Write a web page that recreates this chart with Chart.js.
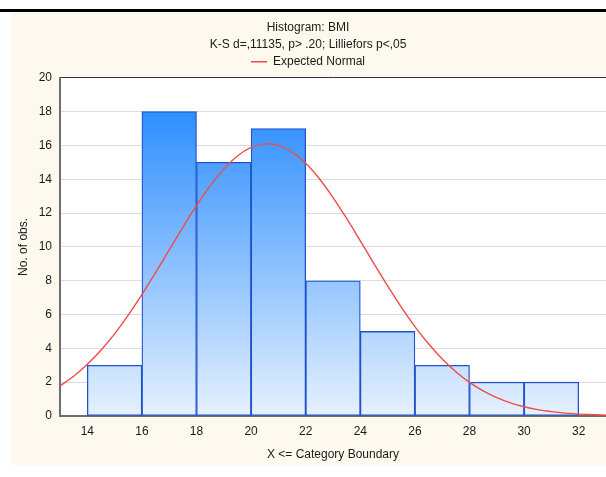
<!DOCTYPE html>
<html>
<head>
<meta charset="utf-8">
<script src="https://cdn.jsdelivr.net/npm/chart.js@4/dist/chart.umd.min.js"></script>
<style>
  html, body { margin: 0; padding: 0; background: #fff; }
  canvas { display: block; }
</style>
</head>
<body>
<canvas id="chart" width="606" height="477"></canvas>
<script>
// ===== Histogram: BMI =====

// bins (lower boundary of each 2-unit class) and observed counts
const BIN_LOWER = [14, 16, 18, 20, 22, 24, 26, 28, 30];
const COUNTS    = [3, 18, 15, 17, 8, 5, 3, 2, 2];

// expected normal curve
const CURVE_X = [13, 13.5, 14, 14.5, 15, 15.5, 16, 16.5, 17, 17.5, 18, 18.5, 19, 19.5, 20, 20.5,
                 21, 21.5, 22, 22.5, 23, 23.5, 24, 24.5, 25, 25.5, 26, 26.5, 27, 27.5, 28, 28.5,
                 29, 29.5, 30, 30.5, 31, 31.5, 32, 33];
const CURVE_Y = [1.78, 2.35, 3.06, 3.89, 4.86, 5.97, 7.18, 8.48, 9.82, 11.16, 12.44, 13.61, 14.6, 15.38, 15.88, 16.09,
                 16.0, 15.61, 14.94, 14.03, 12.92, 11.68, 10.36, 9.01, 7.7, 6.44, 5.29, 4.27, 3.37, 2.62, 1.99, 1.49,
                 1.09, 0.78, 0.55, 0.38, 0.26, 0.17, 0.11, 0.05];

const X_TICKS = [14, 16, 18, 20, 22, 24, 26, 28, 30, 32];

const THEME = {
  text:   '#1a1a1a',
  cream:  '#fef9ee',
  axis:   '#6e6e6e',
  grid:   '#dcdcdc',
  barEdge:'#1f52cc',
  barTop: '#1a84ff',
  barBot: '#e6f1fe',
  curve:  '#f04a4a',
  font:   "'Liberation Sans', Arial, sans-serif",
};

// ── Background: black rule on top, cream panel, white plot ──────────────────
const backdrop = {
  id: 'backdrop',
  beforeDraw(chart) {
    const { ctx, width, height, chartArea: a } = chart;
    ctx.save();
    ctx.fillStyle = '#fff';
    ctx.fillRect(0, 0, width, height);
    ctx.fillStyle = '#000';
    ctx.fillRect(0, 9, width, 3);
    ctx.fillStyle = THEME.cream;
    ctx.fillRect(11, 12, width - 11, 453);
    ctx.fillStyle = '#fff';
    ctx.fillRect(a.left, a.top, a.right - a.left, a.bottom - a.top);
    ctx.restore();
  },
};

function barGradient(context) {
  const { ctx, chartArea } = context.chart;
  if (!chartArea) return THEME.barTop;
  const g = ctx.createLinearGradient(0, chartArea.top, 0, chartArea.bottom);
  g.addColorStop(0, THEME.barTop);
  g.addColorStop(1, THEME.barBot);
  return g;
}

const font12 = { family: THEME.font, size: 12 };

new Chart(document.getElementById('chart'), {
  type: 'bar',
  data: {
    datasets: [
      {
        type: 'line',
        label: 'Expected Normal',
        data: CURVE_X.map((x, i) => ({ x, y: CURVE_Y[i] })),
        borderColor: THEME.curve,
        backgroundColor: THEME.curve,
        borderWidth: 1.4,
        pointRadius: 0,
        tension: 0.4,
        fill: false,
        order: 0,
      },
      {
        label: 'BMI',
        data: BIN_LOWER.map((lo, i) => ({ x: lo + 1, y: COUNTS[i] })),
        backgroundColor: barGradient,
        borderColor: THEME.barEdge,
        borderWidth: 1.3,
        borderSkipped: false,
        barPercentage: 1,
        categoryPercentage: 1,
        order: 1,
      },
    ],
  },
  options: {
    responsive: false,
    animation: false,
    devicePixelRatio: 1,
    layout: { padding: { left: 10, right: 0, top: 0, bottom: 11 } },
    plugins: {
      title: {
        display: true,
        text: 'Histogram: BMI',
        color: THEME.text,
        font: { ...font12, weight: 'normal' },
        padding: { top: 20, bottom: 0 },
      },
      subtitle: {
        display: true,
        text: 'K-S d=,11135, p> .20; Lilliefors p<,05',
        color: THEME.text,
        font: font12,
        padding: { top: 3, bottom: 0 },
      },
      legend: {
        display: true,
        labels: {
          color: THEME.text,
          font: font12,
          usePointStyle: true,
          pointStyle: 'line',
          pointStyleWidth: 16,
          padding: 4,
          filter: (item) => item.text === 'Expected Normal',
        },
      },
      tooltip: { enabled: false },
    },
    scales: {
      x: {
        type: 'linear',
        min: 13,
        max: 33,
        offset: false,
        afterBuildTicks: (s) => { s.ticks = X_TICKS.map(v => ({ value: v })); },
        afterFit: (s) => { s.height = 50; },
        grid: { display: false, offset: false, drawTicks: false },
        border: { color: THEME.axis, width: 2 },
        ticks: { color: THEME.text, font: font12, padding: 8, maxRotation: 0 },
        title: { display: true, text: 'X <= Category Boundary', color: THEME.text, font: font12,
                 padding: { top: 4, bottom: 4 } },
      },
      y: {
        min: 0,
        max: 20,
        afterFit: (s) => { s.width = 50; },
        grid: {
          color: (c) => (c.tick && c.tick.value === 20 ? '#333' : THEME.grid),
          drawTicks: false,
        },
        border: { color: THEME.axis, width: 2 },
        ticks: { stepSize: 2, color: THEME.text, font: font12, padding: 8 },
        title: { display: true, text: 'No. of obs.', color: THEME.text, font: font12,
                 padding: { top: 6, bottom: 4 } },
      },
    },
  },
  plugins: [backdrop],
});
</script>
</body>
</html>
